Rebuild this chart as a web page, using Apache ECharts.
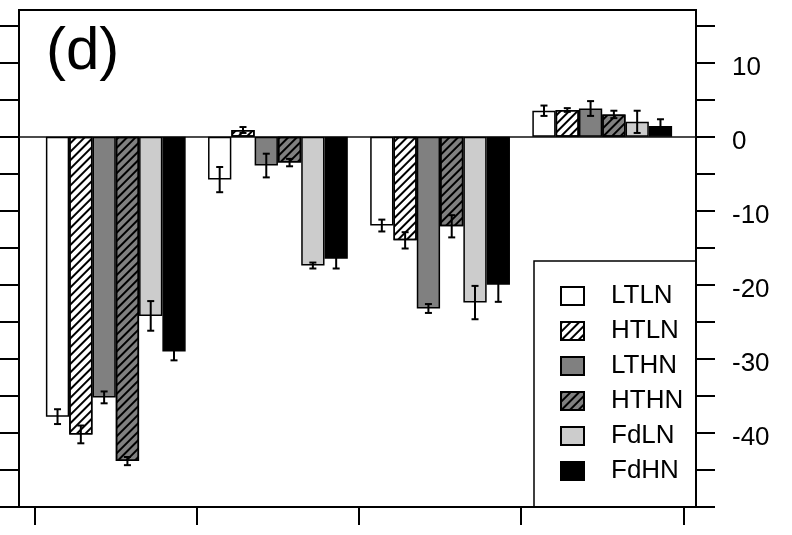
<!DOCTYPE html>
<html>
<head>
<meta charset="utf-8">
<script src="https://cdn.jsdelivr.net/npm/echarts@6/dist/echarts.min.js"></script>
<style>html,body{margin:0;padding:0;background:#fff;}#c{width:792px;height:535px;}</style>
</head>
<body>
<div id="c"></div>
<script>
var categories = ['G1', 'G2', 'G3', 'G4'];
var seriesNames = ['LTLN', 'HTLN', 'LTHN', 'HTHN', 'FdLN', 'FdHN'];
var LTLN = [-37.8, -5.8, -12.0, 3.5];
var HTLN = [-40.2, 0.9, -14.0, 3.6];
var LTHN = [-35.2, -3.9, -23.2, 3.8];
var HTHN = [-43.8, -3.5, -12.1, 3.0];
var FdLN = [-24.2, -17.4, -22.4, 2.0];
var FdHN = [-29.0, -16.5, -20.0, 1.45];
var LTLN_err = [1.0, 1.7, 0.8, 0.7];
var HTLN_err = [1.2, 0.4, 1.1, 0.25];
var LTHN_err = [0.8, 1.6, 0.6, 1.0];
var HTHN_err = [0.55, 0.5, 1.5, 0.5];
var FdLN_err = [2.0, 0.4, 2.25, 1.5];
var FdHN_err = [1.2, 1.3, 2.3, 0.9];
var yTicks = [-50, -45, -40, -35, -30, -25, -20, -15, -10, -5, 0, 5, 10, 15];
var yLabels = [-40, -30, -20, -10, 0, 10];

var values = [LTLN, HTLN, LTHN, HTHN, FdLN, FdHN];
var errors = [LTLN_err, HTLN_err, LTHN_err, HTHN_err, FdLN_err, FdHN_err];
var fills = ['#ffffff', '#ffffff', '#808080', '#808080', '#cccccc', '#000000'];
var hatched = [false, true, false, true, false, false];
var FONT = 'Liberation Sans, Arial, Helvetica, sans-serif';
var YMIN = -50, YMAX = 17.1;
var CAT_GAP = 0.138;

var hatch = {
  symbol: 'rect',
  symbolSize: 1,
  color: '#000',
  backgroundColor: null,
  dashArrayX: [1, 0],
  dashArrayY: [2, 3.2],
  rotation: -Math.PI / 4
};

var series = [];
seriesNames.forEach(function (name, i) {
  var itemStyle = { color: fills[i], borderColor: '#000', borderWidth: 1.5 };
  if (hatched[i]) itemStyle.decal = hatch;
  series.push({
    name: name,
    type: 'bar',
    xAxisIndex: 0,
    yAxisIndex: 0,
    data: values[i],
    barGap: '0%',
    barCategoryGap: (CAT_GAP * 100) + '%',
    itemStyle: itemStyle,
    emphasis: { disabled: true },
    animation: false
  });
});

var errData = [];
values.forEach(function (arr, si) {
  arr.forEach(function (v, ci) {
    errData.push([ci, si, v - errors[si][ci], v + errors[si][ci]]);
  });
});

series.push({
  type: 'custom',
  xAxisIndex: 0,
  yAxisIndex: 0,
  data: errData,
  z: 10,
  silent: true,
  animation: false,
  encode: { x: 0, y: [2, 3] },
  renderItem: function (params, api) {
    var ci = api.value(0), si = api.value(1);
    var lo = api.value(2), hi = api.value(3);
    var band = api.size([1, 0])[0];
    var bw = band * (1 - CAT_GAP) / 6;
    var cx = api.coord([ci, 0])[0] + (si - 2.5) * bw;
    var yLo = api.coord([ci, lo])[1];
    var yHi = api.coord([ci, hi])[1];
    var cap = 3.5;
    var st = { stroke: '#000', lineWidth: 2 };
    return {
      type: 'group',
      children: [
        { type: 'line', shape: { x1: cx, y1: yLo, x2: cx, y2: yHi }, style: st },
        { type: 'line', shape: { x1: cx - cap, y1: yLo, x2: cx + cap, y2: yLo }, style: st },
        { type: 'line', shape: { x1: cx - cap, y1: yHi, x2: cx + cap, y2: yHi }, style: st }
      ]
    };
  }
});

var chart = echarts.init(document.getElementById('c'), null, { renderer: 'canvas' });
chart.setOption({
  animation: false,
  backgroundColor: '#fff',
  title: {
    text: '(d)',
    left: 46,
    top: 22,
    padding: 0,
    textStyle: { fontFamily: FONT, fontSize: 60, fontWeight: 'normal', color: '#000' }
  },
  grid: [
    { left: 34.7, right: 108.7, top: 10, height: 497, show: false },
    { left: 19, right: 96, top: 10, height: 497, show: true, borderColor: '#000', borderWidth: 2, backgroundColor: 'transparent' }
  ],
  graphic: [
    { type: 'rect', z: 3, silent: true, shape: { x: 534, y: 261, width: 162, height: 246 }, style: { fill: 'transparent', stroke: '#000', lineWidth: 1.5 } }
  ],
  legend: {
    orient: 'vertical',
    left: 560,
    top: 283,
    padding: 0,
    z: 5,
    itemWidth: 23,
    itemHeight: 18,
    itemGap: 9,
    icon: 'rect',
    selectedMode: false,
    data: seriesNames,
    textStyle: { fontFamily: FONT, fontSize: 26, lineHeight: 26, color: '#000', padding: [0, 0, 0, 22] }
  },
  xAxis: [
    {
      gridIndex: 0, type: 'category', data: categories, position: 'bottom',
      axisLine: { show: false, onZero: false },
      axisTick: { show: true, length: 18, lineStyle: { color: '#000', width: 2 } },
      axisLabel: { show: false },
      splitLine: { show: false }
    },
    {
      gridIndex: 1, type: 'value', min: 0, max: 1,
      axisLine: { show: true, onZero: true, lineStyle: { color: '#111', width: 1.5 } },
      axisTick: { show: false }, axisLabel: { show: false }, splitLine: { show: false }
    }
  ],
  yAxis: [
    { gridIndex: 0, type: 'value', min: YMIN, max: YMAX, show: false },
    {
      gridIndex: 1, type: 'value', min: YMIN, max: YMAX, position: 'left',
      axisLine: { show: false },
      axisTick: { show: true, length: 19, customValues: yTicks, lineStyle: { color: '#000', width: 2 } },
      axisLabel: { show: false }, splitLine: { show: false }
    },
    {
      gridIndex: 1, type: 'value', min: YMIN, max: YMAX, position: 'right',
      axisLine: { show: false },
      axisTick: { show: true, length: 19, customValues: yTicks, lineStyle: { color: '#000', width: 2 } },
      axisLabel: { show: true, customValues: yLabels, margin: 36, fontFamily: FONT, fontSize: 26, color: '#000', verticalAlign: 'top', lineHeight: 10 },
      splitLine: { show: false }
    }
  ],
  series: series
});
</script>
</body>
</html>
